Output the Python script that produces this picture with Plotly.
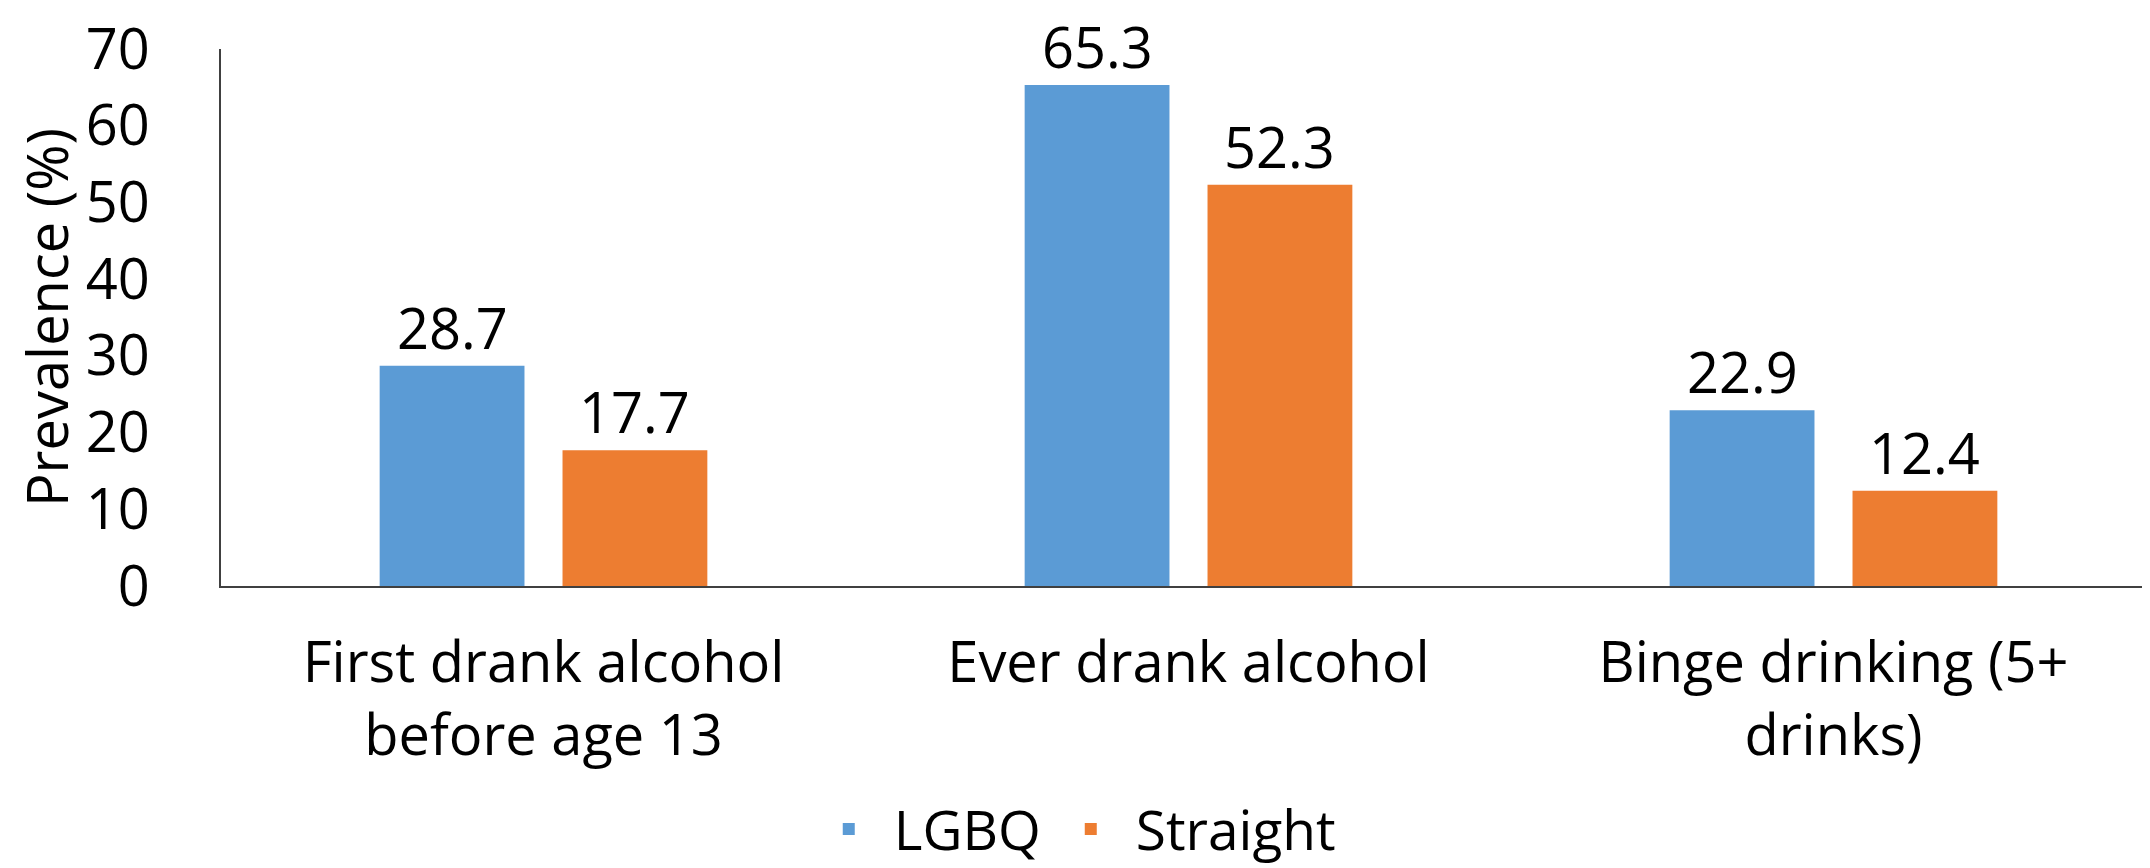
import plotly.graph_objects as go

categories = ["First drank alcohol<br>before age 13", "Ever drank alcohol", "Binge drinking (5+<br>drinks)"]
series_names = ["LGBQ", "Straight"]
lgbq_values = [28.7, 65.3, 22.9]
straight_values = [17.7, 52.3, 12.4]
colors = ["#5B9BD5", "#ED7D31"]
y_ticks = [0, 10, 20, 30, 40, 50, 60, 70]

FONT = "Open Sans"
BARGAP = 0.433
GROUPGAP = 0.208

fig = go.Figure()
for name, vals, col in zip(series_names, [lgbq_values, straight_values], colors):
    fig.add_trace(go.Bar(x=categories, y=vals, name=name, marker=dict(color=col, line=dict(width=0))))

# data labels placed above each bar (bar centre offset derived from the gap settings)
slot = (1 - BARGAP) / 2
offsets = [-slot / 2, slot / 2]
annotations = []
for off, vals in zip(offsets, [lgbq_values, straight_values]):
    for i, v in enumerate(vals):
        annotations.append(dict(x=i + off, y=v, xref="x", yref="y", text=f"{v:.1f}",
                                showarrow=False, yanchor="bottom", yshift=12,
                                height=50, valign="middle",
                                font=dict(family=FONT, size=56, color="black")))

fig.update_layout(
    width=2150, height=868,
    margin=dict(l=213, r=2, t=41, b=290),
    paper_bgcolor="white", plot_bgcolor="white",
    barmode="group", bargap=BARGAP, bargroupgap=GROUPGAP,
    font=dict(family=FONT, size=56, color="black"),
    annotations=annotations,
    legend=dict(orientation="h", xref="container", x=0.495, xanchor="center",
                yref="container", y=0.054, yanchor="middle",
                font=dict(family=FONT, size=55, color="black"), itemwidth=80),
    showlegend=True,
)
fig.update_yaxes(range=[0, 70], tickvals=y_ticks, showgrid=False, zeroline=False,
                 showline=True, linecolor="#404040", linewidth=2, automargin=False,
                 ticks="", ticklabelstandoff=58,
                 tickfont=dict(family=FONT, size=56, color="black"),
                 title=dict(text="Prevalence (%)", standoff=14,
                            font=dict(family=FONT, size=56, color="black")))
fig.update_xaxes(showgrid=False, showline=True, linecolor="#404040", linewidth=2,
                 automargin=False, ticks="", ticklabelstandoff=27,
                 tickfont=dict(family=FONT, size=56, color="black"))

fig.write_html("out.html")
